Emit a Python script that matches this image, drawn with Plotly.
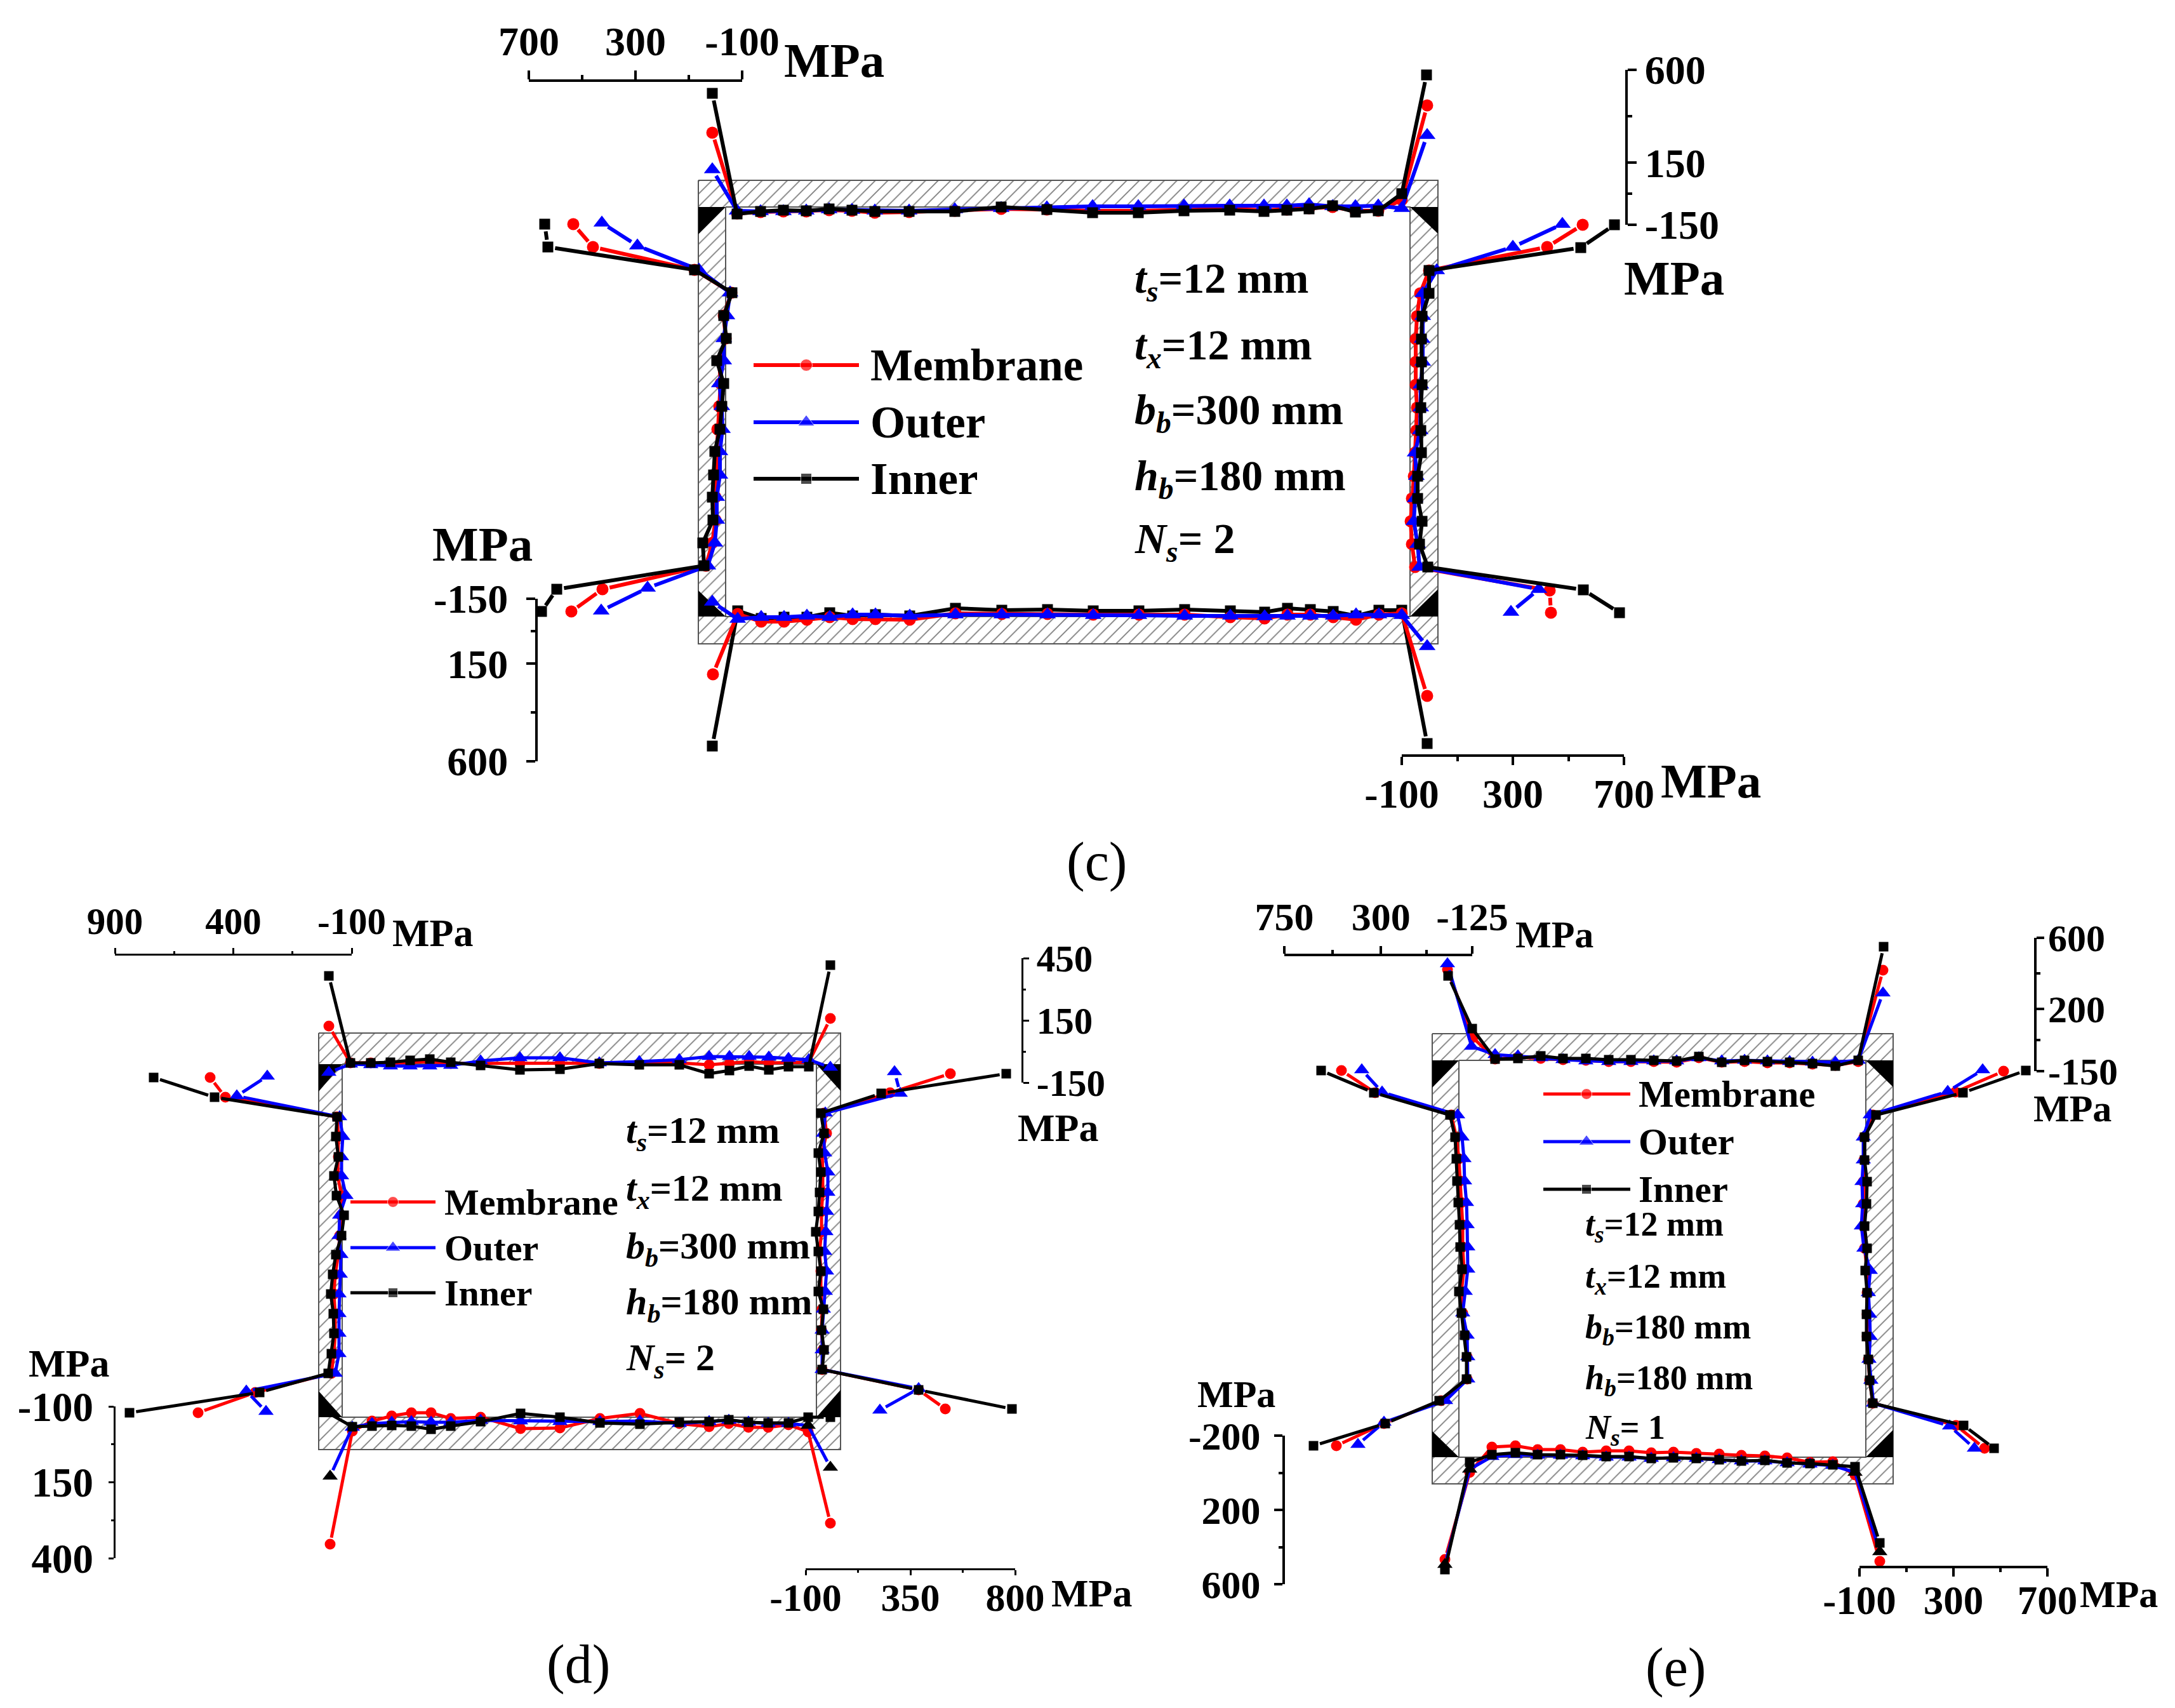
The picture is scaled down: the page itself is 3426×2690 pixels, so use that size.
import math
import plotly.graph_objects as go

W, H = 3426, 2690
F = "Liberation Serif"
RED, BLUE, BLACK = "#ff0000", "#0000ff", "#000000"

# ---------- panel (c) ----------
c_top_x = [1161,1198,1234,1270,1306,1342,1378,1432,1504,1577,1649,1721,1793,1865,1937,1991,2027,2062,2099,2135,2171,2208]
c_top_inner = [337,333,331,332,329,331,333,333,333,326,330,335,335,332,331,333,331,329,324,334,332,305]
c_top_membrane = [336,334,333,333,331,332,335,334,332,329,330,332,332,330,329,331,330,328,326,332,332,315]
c_top_outer = [332,333,333,332,330,331,332,332,330,328,327,325,325,324,324,324,324,322,325,325,324,328]
c_top_tips = {"inner": ((1122,147),(2247,118)), "membrane": ((1122,209),(2248,166)), "outer": ((1122,267),(2248,213))}
c_left_y = [425,461,497,533,568,604,640,676,711,748,783,819,855,891]
c_left_inner = [1094,1153,1140,1144,1129,1140,1137,1134,1126,1124,1122,1123,1107,1109]
c_left_membrane = [1094,1152,1140,1143,1133,1135,1133,1130,1129,1129,1127,1127,1122,1112]
c_left_outer = [1101,1150,1145,1140,1140,1133,1137,1138,1134,1134,1129,1129,1126,1115]
c_left_tips = {"inner": ([(858,353),(863,389)],[(877,928),(853,963)]), "membrane": ([(903,353),(934,389)],[(949,928),(900,963)]), "outer": ([(948,351),(1004,387)],[(1020,926),(947,962)])}
c_right_y = [426,462,498,534,570,606,642,678,713,750,785,821,857,893]
c_right_inner = [2251,2251,2240,2239,2239,2240,2238,2238,2239,2233,2233,2240,2236,2249]
c_right_membrane = [2251,2237,2232,2230,2230,2230,2232,2231,2229,2227,2224,2222,2224,2229]
c_right_outer = [2263,2241,2241,2240,2241,2238,2238,2237,2229,2231,2229,2227,2233,2236]
c_right_tips = {"inner": ([(2543,354),(2490,390)],[(2494,929),(2551,965)]), "membrane": ([(2493,354),(2437,389)],[(2441,930),(2443,965)]), "outer": ([(2461,353),(2383,389)],[(2424,928),(2380,964)])}
c_bottom_x = [1162,1199,1235,1271,1307,1343,1379,1433,1505,1578,1650,1722,1794,1866,1938,1992,2028,2064,2100,2136,2172,2208]
c_bottom_inner = [962,974,972,972,965,970,968,970,958,961,960,962,962,960,962,964,958,960,963,970,961,961]
c_bottom_membrane = [967,979,979,976,972,975,975,976,966,967,967,968,968,968,972,974,968,968,972,976,968,966]
c_bottom_outer = [975,972,972,970,972,968,968,970,968,968,968,969,969,970,970,971,970,970,970,968,968,969]
c_bottom_tips = {"inner": ((1122,1175),(2248,1171)), "membrane": ((1123,1062),(2248,1096)), "outer": ((1122,948),(2248,1018))}

# ---------- panel (d) ----------
d_top_x = [552,584,615,646,677,710,757,819,882,944,1007,1070,1117,1149,1180,1211,1242,1274]
d_top_inner = [1674,1674,1673,1670,1668,1673,1678,1685,1684,1675,1677,1677,1691,1686,1679,1685,1680,1680]
d_top_membrane = [1674,1674,1675,1673,1672,1675,1675,1675,1675,1675,1675,1674,1677,1675,1672,1674,1674,1673]
d_top_outer = [1676,1677,1679,1679,1679,1678,1671,1666,1666,1674,1672,1669,1664,1664,1664,1665,1667,1669]
d_top_tips = {"inner": ((518,1537),(1308,1520)), "membrane": ((518,1616),(1308,1604)), "outer": ((518,1689),(1308,1681))}
d_left_y = [1759,1790,1822,1852,1883,1914,1946,1976,2007,2038,2069,2100,2132,2163]
d_left_inner = [531,529,533,526,530,542,538,529,524,521,525,526,522,517]
d_left_membrane = [531,533,533,532,538,537,535,533,528,526,528,528,526,522]
d_left_outer = [535,540,538,538,545,535,534,537,536,534,534,534,534,528]
d_left_tips = {"inner": ([(242,1697),(338,1728)],[(409,2193),(204,2225)]), "membrane": ([(331,1697),(355,1728)],[(402,2193),(312,2225)]), "outer": ([(421,1695),(373,1726)],[(388,2191),(419,2223)])}
d_right_y = [1753,1785,1816,1846,1878,1908,1940,1971,2002,2034,2062,2095,2126,2157]
d_right_inner = [1293,1298,1289,1293,1291,1289,1285,1289,1293,1289,1297,1294,1298,1295]
d_right_membrane = [1298,1302,1295,1296,1296,1294,1294,1291,1293,1293,1295,1294,1296,1295]
d_right_outer = [1300,1297,1299,1304,1304,1302,1301,1299,1302,1300,1297,1295,1295,1295]
d_right_tips = {"inner": ([(1585,1691),(1388,1722)],[(1447,2189),(1594,2219)]), "membrane": ([(1497,1691),(1402,1721)],[(1447,2189),(1489,2219)]), "outer": ([(1409,1688),(1418,1722)],[(1447,2187),(1386,2221)])}
d_bottom_x = [555,586,617,648,679,710,757,820,882,945,1008,1070,1117,1148,1179,1210,1242,1273]
d_bottom_inner = [2247,2246,2245,2246,2251,2246,2239,2226,2232,2241,2243,2240,2239,2236,2240,2241,2241,2232]
d_bottom_membrane = [2254,2238,2230,2225,2225,2234,2232,2250,2249,2234,2226,2242,2247,2242,2248,2248,2244,2255]
d_bottom_outer = [2248,2242,2240,2239,2240,2240,2237,2238,2239,2239,2238,2242,2239,2237,2240,2242,2242,2245]
d_bottom_tips = {"inner": ((511,2222),(1308,2232)), "membrane": ((520,2432),(1308,2399)), "outer": ((520,2325),(1308,2311))}

# ---------- panel (e) ----------
e_top_x = [2355,2391,2427,2462,2498,2534,2569,2605,2641,2676,2712,2748,2784,2819,2855,2891,2927]
e_top_inner = [1668,1667,1663,1667,1667,1669,1669,1670,1671,1664,1673,1670,1672,1673,1675,1679,1670]
e_top_membrane = [1668,1665,1667,1669,1670,1672,1672,1672,1673,1666,1673,1672,1674,1674,1676,1678,1672]
e_top_outer = [1661,1663,1666,1669,1671,1672,1672,1671,1671,1666,1671,1670,1671,1672,1673,1673,1670]
e_top_tips = {"inner": ([(2281,1537),(2319,1620)],[(2967,1491)]), "membrane": ([(2280,1527),(2320,1634)],[(2966,1528)]), "outer": ([(2280,1518),(2318,1648)],[(2966,1564)])}
e_left_y = [1756,1791,1825,1860,1894,1929,1964,1999,2034,2068,2103,2137,2172,2206]
e_left_inner = [2284,2292,2294,2295,2297,2299,2300,2303,2298,2302,2307,2310,2310,2267]
e_left_membrane = [2286,2294,2298,2300,2302,2304,2304,2306,2302,2304,2308,2311,2311,2270]
e_left_outer = [2296,2303,2306,2307,2310,2311,2312,2312,2308,2304,2311,2312,2312,2277]
e_left_tips = {"inner": ([(2081,1686),(2164,1721)],[(2182,2242),(2069,2277)]), "membrane": ([(2113,1686),(2166,1721)],[(2180,2242),(2105,2277)]), "outer": ([(2145,1685),(2177,1720)],[(2180,2240),(2139,2275)])}
e_right_y = [1756,1791,1827,1861,1896,1931,1966,2001,2036,2070,2105,2141,2174,2210]
e_right_inner = [2955,2937,2937,2941,2940,2937,2941,2938,2941,2940,2940,2943,2945,2950]
e_right_membrane = [2950,2936,2936,2935,2935,2935,2937,2941,2941,2941,2941,2943,2945,2950]
e_right_outer = [2946,2935,2935,2933,2934,2932,2936,2946,2943,2945,2946,2944,2947,2951]
e_right_tips = {"inner": ([(3191,1686),(3092,1721)],[(3093,2245),(3141,2281)]), "membrane": ([(3156,1687),(3080,1720)],[(3081,2245),(3126,2281)]), "outer": ([(3123,1685),(3068,1719)],[(3071,2246),(3110,2281)])}
e_bottom_x = [2315,2350,2387,2422,2458,2493,2530,2566,2601,2636,2672,2708,2743,2780,2815,2851,2887,2922]
e_bottom_inner = [2303,2291,2288,2291,2291,2292,2294,2294,2297,2296,2297,2299,2301,2300,2304,2305,2307,2310]
e_bottom_membrane = [2319,2279,2277,2283,2283,2287,2285,2285,2288,2287,2289,2290,2292,2293,2296,2303,2302,2323]
e_bottom_outer = [2314,2294,2291,2292,2292,2293,2295,2295,2297,2296,2297,2299,2301,2301,2304,2306,2308,2319]
e_bottom_tips = {"inner": ((2276,2472),(2961,2430)), "membrane": ((2276,2456),(2961,2459)), "outer": ((2276,2464),(2961,2444))}

STY = {"membrane": (RED, "circle"), "outer": (BLUE, "triangle-up"), "inner": (BLACK, "square")}
ORDER = ["membrane", "outer", "inner"]
LEGEND_NAMES = ["Membrane", "Outer", "Inner"]
GAP = 3

fig = go.Figure()

def add_frame(ol, ot, or_, ob, il, it, ir, ib, lw=2):
    fig.add_trace(go.Scatter(x=[ol, or_, or_, ol, ol], y=[ot, ot, ob, ob, ot], mode="lines", fill="toself",
        fillcolor="white", fillpattern=dict(shape="/", size=14, solidity=0.13, fgcolor="#000000", bgcolor="white"),
        line=dict(color="#555555", width=lw), hoverinfo="skip", showlegend=False))
    fig.add_trace(go.Scatter(x=[il, ir, ir, il, il], y=[it, it, ib, ib, it], mode="lines", fill="toself",
        fillcolor="white", line=dict(color="#555555", width=lw), hoverinfo="skip", showlegend=False))
    for tri in [[(ol, it), (il, it), (ol, it + 43)], [(ir, it), (or_, it), (or_, it + 42)],
                [(ol, ib - 41), (ol, ib), (il, ib)], [(or_, ib - 43), (or_, ib), (ir, ib)]]:
        fig.add_trace(go.Scatter(x=[p[0] for p in tri], y=[p[1] for p in tri], mode="lines", fill="toself",
            fillcolor="black", line=dict(color="black", width=0), hoverinfo="skip", showlegend=False))

def marker_size(kind, size):
    return size + 6 if kind == "outer" else size + 2 if kind == "membrane" else size

def gapped(xs, ys, tips, r):
    """The same polyline, stopping short of the free-end markers."""
    ox, oy = [], []
    for i in range(len(xs) - 1):
        ax, ay, bx, by = xs[i], ys[i], xs[i + 1], ys[i + 1]
        d = math.hypot(bx - ax, by - ay) or 1
        ux, uy = (bx - ax) / d, (by - ay) / d
        if i in tips:
            ox.append(None); oy.append(None)
            ox.append(ax + ux * r); oy.append(ay + uy * r)
        elif i == 0:
            ox.append(ax); oy.append(ay)
        if i + 1 in tips:
            ox.append(bx - ux * r); oy.append(by - uy * r)
        else:
            ox.append(bx); oy.append(by)
    return ox, oy

def add_path(kind, xs, ys, size, lw, tip_idx, black_idx=()):
    color, symbol = STY[kind]
    n = len(xs)
    colors = [BLACK if i in black_idx or (i - n) in black_idx else color for i in range(n)]
    base = marker_size(kind, size)
    tips = {i % n for i in tip_idx}
    lx, ly = gapped(xs, ys, tips, size / 2 + GAP)
    fig.add_trace(go.Scatter(x=lx, y=ly, mode="lines", line=dict(color=color, width=lw), hoverinfo="skip", showlegend=False))
    fig.add_trace(go.Scatter(x=xs, y=ys, mode="markers", marker=dict(symbol=symbol, color=colors, size=base, line=dict(width=0)),
        hoverinfo="skip", showlegend=False))

def add_side_h(x, vals, tips, size, lw, order=ORDER, black=None):
    for k in order:
        pre, suf = tips[k]
        if isinstance(pre, tuple):
            pre, suf = [pre], [suf]
        xs = [p[0] for p in pre] + list(x) + [p[0] for p in suf]
        ys = [p[1] for p in pre] + list(vals[k]) + [p[1] for p in suf]
        add_path(k, xs, ys, size, lw, (0, -1), black.get(k, ()) if black else ())

def add_side_v(y, vals, tips, size, lw, order=ORDER):
    for k in order:
        pre, suf = tips[k]
        xs = [p[0] for p in pre] + list(vals[k]) + [p[0] for p in suf]
        ys = [p[1] for p in pre] + list(y) + [p[1] for p in suf]
        add_path(k, xs, ys, size, lw, (0, 1, -1, -2))

annos = []
def note(x, y, text, fs, anchor="left", weight=700, shift=3):
    annos.append(dict(x=x - shift, y=y - shift, xref="x", yref="y", text=text, showarrow=False, xanchor=anchor, yanchor="middle",
                      font=dict(family=F, size=fs, color="black", weight=weight)))

def add_legend(x0, xm, x1, ys, tx, fs, size, lw):
    for k, name, y in zip(ORDER, LEGEND_NAMES, ys):
        color, symbol = STY[k]
        fig.add_trace(go.Scatter(x=[x0, xm, x1], y=[y, y, y], mode="lines+markers", line=dict(color=color, width=lw),
            marker=dict(symbol=symbol, size=[0, marker_size(k, size), 0], color=color), hoverinfo="skip", showlegend=False))
        note(tx, y + 3, name, fs)

axes = {}
counter = {"x": 1, "y": 1}

def mini_axis(direction, a0, a1, pos, rng, major, labels, minor, side, tl, ml, lw, fs, standoff=0):
    counter[direction] += 1
    n = counter[direction]
    base = dict(anchor="free", side=side, range=rng, tickmode="array", tickvals=major, ticktext=labels, automargin=False,
                ticks="outside", ticklen=tl, tickwidth=lw, tickcolor="black", showline=True, linewidth=lw,
                linecolor="black", showgrid=False, zeroline=False, tickangle=0, ticklabelstandoff=standoff,
                tickfont=dict(family=F, size=fs, color="black", weight=700),
                minor=dict(tickmode="array", tickvals=minor, ticks="outside", ticklen=ml, tickwidth=lw, tickcolor="black", showgrid=False))
    if direction == "x":
        axes[f"xaxis{n}"] = dict(base, domain=[a0 / W, a1 / W], position=1 - pos / H)
        fig.add_trace(go.Scatter(x=major, y=[pos] * len(major), xaxis=f"x{n}", yaxis="y", mode="markers",
                                 marker=dict(opacity=0), hoverinfo="skip", showlegend=False))
    else:
        axes[f"yaxis{n}"] = dict(base, domain=[1 - a1 / H, 1 - a0 / H], position=pos / W)
        fig.add_trace(go.Scatter(x=[pos] * len(major), y=major, xaxis="x", yaxis=f"y{n}", mode="markers",
                                 marker=dict(opacity=0), hoverinfo="skip", showlegend=False))

# ----- frames -----
add_frame(1100, 284, 2265, 1014, 1143, 326, 2221, 971)
add_frame(502, 1627, 1324, 2283, 539, 1676, 1286, 2232)
add_frame(2256, 1628, 2982, 2337, 2298, 1670, 2939, 2295)

# ----- profiles -----
vals = lambda a, b, c: {"membrane": a, "outer": b, "inner": c}
add_side_h(c_top_x, vals(c_top_membrane, c_top_outer, c_top_inner), c_top_tips, 17, 6)
add_side_v(c_left_y, vals(c_left_membrane, c_left_outer, c_left_inner), c_left_tips, 17, 6)
add_side_v(c_right_y, vals(c_right_membrane, c_right_outer, c_right_inner), c_right_tips, 17, 6)
add_side_h(c_bottom_x, vals(c_bottom_membrane, c_bottom_outer, c_bottom_inner), c_bottom_tips, 17, 6, order=["inner", "membrane", "outer"])

add_side_h(d_top_x, vals(d_top_membrane, d_top_outer, d_top_inner), d_top_tips, 15, 5)
add_side_v(d_left_y, vals(d_left_membrane, d_left_outer, d_left_inner), d_left_tips, 15, 5)
add_side_v(d_right_y, vals(d_right_membrane, d_right_outer, d_right_inner), d_right_tips, 15, 5)
add_side_h(d_bottom_x, vals(d_bottom_membrane, d_bottom_outer, d_bottom_inner), d_bottom_tips, 15, 5, black={"outer": (0, -1, -2)})

add_side_h(e_top_x, vals(e_top_membrane, e_top_outer, e_top_inner), e_top_tips, 15, 5)
add_side_v(e_left_y, vals(e_left_membrane, e_left_outer, e_left_inner), e_left_tips, 15, 5)
add_side_v(e_right_y, vals(e_right_membrane, e_right_outer, e_right_inner), e_right_tips, 15, 5)
add_side_h(e_bottom_x, vals(e_bottom_membrane, e_bottom_outer, e_bottom_inner), e_bottom_tips, 15, 5, black={"outer": (0, 1, -1, -2)})

# ----- legends -----
add_legend(1187, 1270, 1353, [575, 665, 754], 1372, 71, 17, 6)
add_legend(552, 619, 686, [1893, 1965, 2036], 701, 58, 15, 5)
add_legend(2431, 2499, 2568, [1723, 1798, 1873], 2582, 59, 15, 5)

# ----- mini axes -----
mini_axis("x", 833, 1169, 127, [700, -100], [700, 300, -100], ["700", "300", "-100"], [500, 100], "top", 14, 7, 4, 64, standoff=-2)
mini_axis("y", 110, 354, 2562, [-150, 600], [-150, 150, 600], ["-150", "150", "600"], [0, 375], "right", 14, 7, 4, 64)
mini_axis("y", 943, 1199, 845, [600, -150], [-150, 150, 600], ["-150", "150", "600"], [0, 375], "left", 14, 7, 4, 64, standoff=16)
mini_axis("x", 2208, 2558, 1190, [-100, 700], [-100, 300, 700], ["-100", "300", "700"], [100, 500], "bottom", 13, 7, 4, 64, standoff=-10)

mini_axis("x", 181, 554, 1503, [900, -100], [900, 400, -100], ["900", "400", "-100"], [650, 150], "top", 9, 4, 3, 59, standoff=-2)
mini_axis("y", 1509, 1705, 1610, [-150, 450], [-150, 150, 450], ["-150", "150", "450"], [0, 300], "right", 9, 4, 3, 59)
mini_axis("y", 2215, 2454, 180, [400, -100], [-100, 150, 400], ["-100", "150", "400"], [25, 275], "left", 8, 4, 3, 65, standoff=11)
mini_axis("x", 1269, 1599, 2471, [-100, 800], [-100, 350, 800], ["-100", "350", "800"], [125, 575], "bottom", 8, 4, 3, 62, standoff=-18)

mini_axis("x", 2023, 2319, 1504, [750, -125], [750, 300, -125], ["750", "300", "-125"], [525, 87], "top", 12, 6, 4, 62)
mini_axis("y", 1477, 1687, 3206, [-150, 600], [-150, 200, 600], ["-150", "200", "600"], [25, 400], "right", 12, 6, 4, 60, standoff=-6)
mini_axis("y", 2261, 2495, 2022, [600, -200], [-200, 200, 600], ["-200", "200", "600"], [0, 400], "left", 13, 6, 4, 62, standoff=9)
mini_axis("x", 2929, 3225, 2468, [-100, 700], [-100, 300, 700], ["-100", "300", "700"], [100, 500], "bottom", 13, 6, 4, 63, standoff=-17)

# ----- MPa labels -----
for x, y, fs in [(1236, 98, 77), (2559, 441, 77), (682, 860, 77), (2617, 1233, 77),
                 (619, 1472, 62), (1604, 1779, 62), (46, 2150, 62), (1657, 2512, 62),
                 (2388, 1475, 60), (3204, 1749, 60), (1887, 2199, 60), (3277, 2514, 60)]:
    note(x, y, "MPa", fs)

# ----- parameter text -----
for x, ys, fs, lines in [
    (1788, [445, 550, 652, 756, 855], 68, ["<i>t<sub>s</sub></i>=12 mm", "<i>t<sub>x</sub></i>=12 mm", "<i>b<sub>b</sub></i>=300 mm", "<i>h<sub>b</sub></i>=180 mm", "<i>N<sub>s</sub></i>= 2"]),
    (987, [1787, 1878, 1969, 2057, 2145], 60, ["<i>t<sub>s</sub></i>=12 mm", "<i>t<sub>x</sub></i>=12 mm", "<i>b<sub>b</sub></i>=300 mm", "<i>h<sub>b</sub></i>=180 mm", "<i>N<sub>s</sub></i>= 2"]),
    (2498, [1934, 2016, 2096, 2176, 2254], 54, ["<i>t<sub>s</sub></i>=12 mm", "<i>t<sub>x</sub></i>=12 mm", "<i>b<sub>b</sub></i>=180 mm", "<i>h<sub>b</sub></i>=180 mm", "<i>N<sub>s</sub></i>= 1"]),
]:
    for y, t in zip(ys, lines):
        note(x, y, t, fs)

# ----- panel captions -----
note(1727, 1357, "(c)", 86, anchor="center", weight=400, shift=0)
note(911, 2621, "(d)", 86, anchor="center", weight=400, shift=0)
note(2639, 2626, "(e)", 86, anchor="center", weight=400, shift=0)

fig.update_layout(width=W, height=H, margin=dict(l=0, r=0, t=0, b=0), paper_bgcolor="white", plot_bgcolor="rgba(0,0,0,0)",
                  showlegend=False, annotations=annos,
                  xaxis=dict(range=[0, W], visible=False, domain=[0, 1], automargin=False),
                  yaxis=dict(range=[H, 0], visible=False, domain=[0, 1], automargin=False), **axes)
fig.write_html("out.html", config=dict(displayModeBar=False),
               post_script="document.body.style.margin='0';document.body.style.overflow='hidden';")
